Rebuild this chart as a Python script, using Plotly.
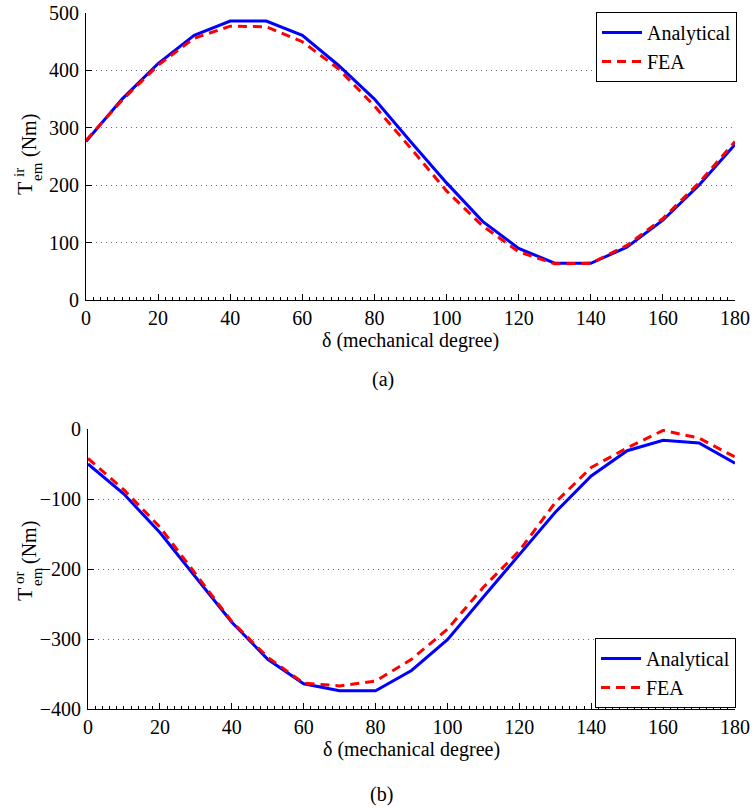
import plotly.graph_objects as go

delta = [0, 10, 20, 30, 40, 50, 60, 70, 80, 90, 100, 110, 120, 130, 140, 150, 160, 170, 180]

ir_analytical = [276, 350, 412, 461, 486, 486, 461, 409, 350, 276, 204, 137, 90, 64, 64, 92, 139, 200, 271]
ir_fea = [278, 348, 409, 456, 477, 476, 450, 403, 338, 265, 190, 129, 84, 63, 64, 95, 142, 204, 276]

or_analytical = [-50, -93, -148, -212, -276, -329, -364, -374, -374, -345, -301, -240, -179, -119, -67, -31, -16, -20, -49]
or_fea = [-42, -87, -140, -207, -275, -326, -363, -367, -360, -329, -286, -226, -174, -105, -55, -27, -2, -13, -40]

W, H = 752, 811
FONT = "Liberation Serif, Times New Roman, Times, DejaVu Serif, serif"
BLUE = "#0000FF"
RED = "#FF0000"


def px(x):
    return x / W


def py(y):
    return 1 - y / H


fig = go.Figure()

fig.add_trace(go.Scatter(x=delta, y=ir_analytical, mode="lines", name="Analytical",
                         line=dict(color=BLUE, width=3), xaxis="x", yaxis="y", legend="legend"))
fig.add_trace(go.Scatter(x=delta, y=ir_fea, mode="lines", name="FEA",
                         line=dict(color=RED, width=3, dash="9px,6px"), xaxis="x", yaxis="y", legend="legend"))
fig.add_trace(go.Scatter(x=delta, y=or_analytical, mode="lines", name="Analytical",
                         line=dict(color=BLUE, width=3), xaxis="x2", yaxis="y2", legend="legend2"))
fig.add_trace(go.Scatter(x=delta, y=or_fea, mode="lines", name="FEA",
                         line=dict(color=RED, width=3, dash="9px,6px"), xaxis="x2", yaxis="y2", legend="legend2"))

tickfont = dict(family=FONT, size=20, color="black")

xcommon = dict(range=[0, 180], dtick=20, tick0=0, ticks="inside", ticklen=6, tickcolor="black",
               showline=True, linecolor="black", linewidth=1, showgrid=False, zeroline=False,
               tickfont=tickfont, automargin=False,
               minor=dict(dtick=2, ticks="inside", ticklen=3, tickcolor="black", showgrid=False),
               title=dict(text="δ (mechanical degree)", font=dict(family=FONT, size=20, color="black"), standoff=2))
ycommon = dict(ticks="inside", ticklen=6, tickcolor="black", dtick=100, automargin=False,
               showline=True, linecolor="black", linewidth=1, zeroline=False,
               showgrid=True, gridcolor="#666666", gridwidth=1, griddash="1px,4px",
               tickfont=tickfont, ticklabelstandoff=2)

fig.update_layout(
    width=W, height=H,
    margin=dict(l=0, r=0, t=0, b=0, autoexpand=False),
    paper_bgcolor="white", plot_bgcolor="white",
    font=dict(family=FONT, size=20, color="black"),
    xaxis=dict(domain=[px(86), px(735)], anchor="y", **xcommon),
    yaxis=dict(domain=[py(300), py(13)], anchor="x", range=[0, 500], **ycommon),
    xaxis2=dict(domain=[px(88), px(735)], anchor="y2", **xcommon),
    yaxis2=dict(domain=[py(709), py(429)], anchor="x2", range=[-400, 0], **ycommon),
    legend=dict(x=px(737), xanchor="right", y=py(12), yanchor="top",
                bordercolor="black", borderwidth=1, bgcolor="white",
                font=dict(family=FONT, size=20, color="black"),
                tracegroupgap=0, itemwidth=40),
    legend2=dict(x=px(736), xanchor="right", y=py(708), yanchor="bottom",
                 bordercolor="black", borderwidth=1, bgcolor="white",
                 font=dict(family=FONT, size=20, color="black"),
                 tracegroupgap=0, itemwidth=40),
    showlegend=True,
)

annotations = [
    # top y-axis title: T^ir_em (Nm)
    dict(text="T", x=px(24), y=py(188), size=22),
    dict(text="ir", x=px(19), y=py(173), size=15),
    dict(text="em", x=px(37), y=py(172), size=15),
    dict(text="(Nm)", x=px(29), y=py(136), size=20),
    # bottom y-axis title: T^or_em (Nm)
    dict(text="T", x=px(24), y=py(594), size=22),
    dict(text="or", x=px(19), y=py(578), size=15),
    dict(text="em", x=px(37), y=py(577), size=15),
    dict(text="(Nm)", x=px(29), y=py(543), size=20),
]
for a in annotations:
    fig.add_annotation(text=a["text"], x=a["x"], y=a["y"], xref="paper", yref="paper",
                       xanchor="center", yanchor="middle", textangle=-90, showarrow=False,
                       font=dict(family=FONT, size=a["size"], color="black"))

fig.add_annotation(text="(a)", x=px(383), y=py(379), xref="paper", yref="paper",
                   xanchor="center", yanchor="middle", showarrow=False,
                   font=dict(family=FONT, size=20, color="black"))
fig.add_annotation(text="(b)", x=px(381), y=py(794), xref="paper", yref="paper",
                   xanchor="center", yanchor="middle", showarrow=False,
                   font=dict(family=FONT, size=20, color="black"))

fig.write_html("out.html")
